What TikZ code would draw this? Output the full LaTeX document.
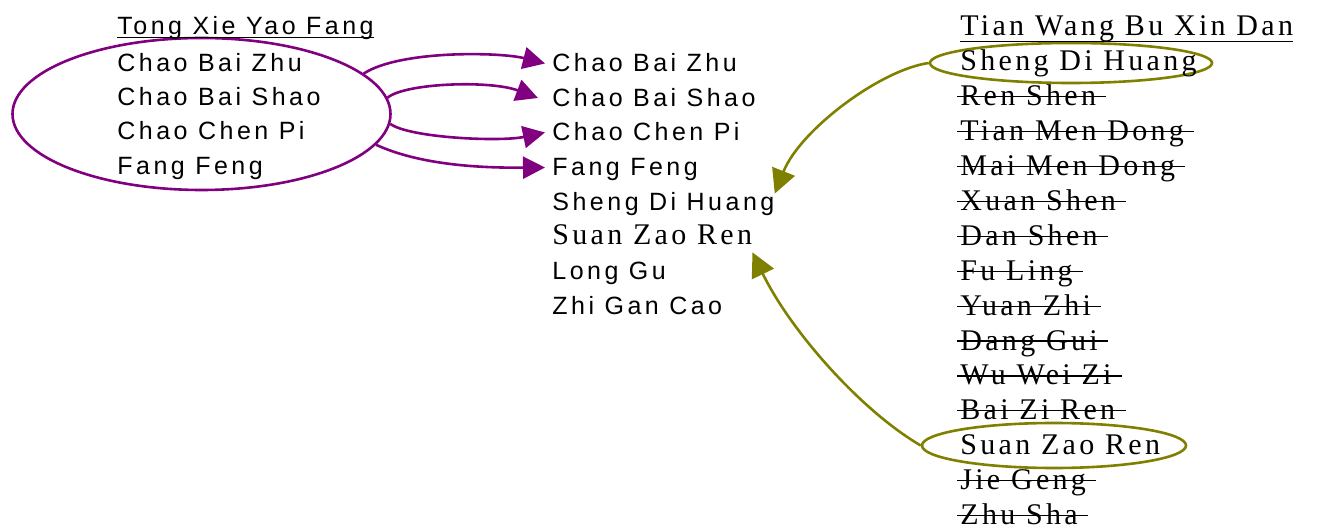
\documentclass[tikz,border=0pt]{standalone}
\usepackage{fontspec}
\setmainfont{Liberation Serif}
\newfontfamily\sansf[LetterSpace=14]{Liberation Sans}
\newfontfamily\serf[LetterSpace=11]{Liberation Serif}
\usetikzlibrary{shapes.geometric,arrows.meta}
\definecolor{purp}{HTML}{800080}
\definecolor{oliv}{HTML}{808000}
\begin{document}
\begin{tikzpicture}[x=0.5pt,y=-0.5pt,
  sanst/.style={anchor=base west, inner sep=0pt, font=\sansf\fontsize{12.5pt}{14pt}\selectfont, text height=8.5pt, text depth=0pt},
  serift/.style={anchor=base west, inner sep=0pt, font=\serf\fontsize{15pt}{17pt}\selectfont, text height=8.5pt, text depth=0pt},
  strikeline/.style={line width=0.6pt},
  ell/.style={ellipse, inner sep=0pt, line width=1.3pt},
  purpline/.style={purp, line width=1.3pt, -{Triangle[length=11pt,width=11pt]}},
  olivline/.style={oliv, line width=1.3pt, -{Triangle[length=12pt,width=12pt]}}]
\useasboundingbox (0,0) rectangle (1324,529);
% ellipses
\node[ell, draw=purp, minimum width=189pt, minimum height=76pt] (L) at (201.5,114) {};
\node[ell, draw=oliv, minimum width=141pt, minimum height=20pt] (E1) at (1071,63) {};
\node[ell, draw=oliv, minimum width=132pt, minimum height=22.5pt] (E2) at (1054,445.5) {};
% left column
\node[sanst] (lt) at (117,35) {Tong Xie Yao Fang};
\draw[strikeline] ([yshift=-1.25pt]lt.base west) -- ([yshift=-1.25pt]lt.base east);
\node[sanst] (l1) at (117,72) {Chao Bai Zhu};
\node[sanst] (l2) at (117,105.5) {Chao Bai Shao};
\node[sanst] (l3) at (117,139.5) {Chao Chen Pi};
\node[sanst] (l4) at (117,175) {Fang Feng};
% middle column
\node[sanst] (m1) at (552,72) {Chao Bai Zhu};
\node[sanst] (m2) at (552,106.5) {Chao Bai Shao};
\node[sanst] (m3) at (552,141) {Chao Chen Pi};
\node[sanst] (m4) at (552,176) {Fang Feng};
\node[sanst] (m5) at (552,211) {Sheng Di Huang};
\node[serift] (m6) at (552,245) {Suan Zao Ren};
\node[sanst] (m7) at (552,280) {Long Gu};
\node[sanst] (m8) at (552,315) {Zhi Gan Cao};
% right column
\node[serift] (rt) at (960,36) {Tian Wang Bu Xin Dan};
\draw[strikeline] ([yshift=-2.75pt]rt.base west) -- ([yshift=-2.75pt]rt.base east);
\node[serift] (r1) at (960,70.9) {Sheng Di Huang};
\node[serift] (r2) at (960,105.8) {Ren Shen};
\node[serift] (r3) at (960,140.7) {Tian Men Dong};
\node[serift] (r4) at (960,175.6) {Mai Men Dong};
\node[serift] (r5) at (960,210.5) {Xuan Shen};
\node[serift] (r6) at (960,245.4) {Dan Shen};
\node[serift] (r7) at (960,280.3) {Fu Ling};
\node[serift] (r8) at (960,315.2) {Yuan Zhi};
\node[serift] (r9) at (960,350.1) {Dang Gui};
\node[serift] (r10) at (960,385) {Wu Wei Zi};
\node[serift] (r11) at (960,419.9) {Bai Zi Ren};
\node[serift] (r12) at (960,454.8) {Suan Zao Ren};
\node[serift] (r13) at (960,489.7) {Jie Geng};
\node[serift] (r14) at (960,524.6) {Zhu Sha};
\foreach \n in {r2,r3,r4,r5,r6,r7,r8,r9,r10,r11,r13,r14}
  \draw[strikeline] ([xshift=-1.5pt,yshift=4.5pt]\n.base west) -- ([xshift=5pt,yshift=4.5pt]\n.base east);
% purple arrows
\draw[purpline] (L.14) .. controls (400,50) and (500,52) .. ([xshift=-3.5pt]m1.west);
\draw[purpline] (L.5) .. controls (405,83) and (490,80) .. ([xshift=-7pt]m2.west);
\draw[purpline] (L.-3) .. controls (410,138) and (500,142) .. ([xshift=-3.5pt]m3.west);
\draw[purpline] (L.-10) .. controls (420,165) and (480,168) .. ([xshift=-3.5pt]m4.west);
% olive arrows
\draw[olivline] (E1.west) .. controls (880,70) and (800,130) .. (m5.north east);
\draw[olivline] (E2.west) .. controls (860,410) and (790,330) .. ([yshift=-3.5pt]m6.south east);
\end{tikzpicture}
\end{document}
